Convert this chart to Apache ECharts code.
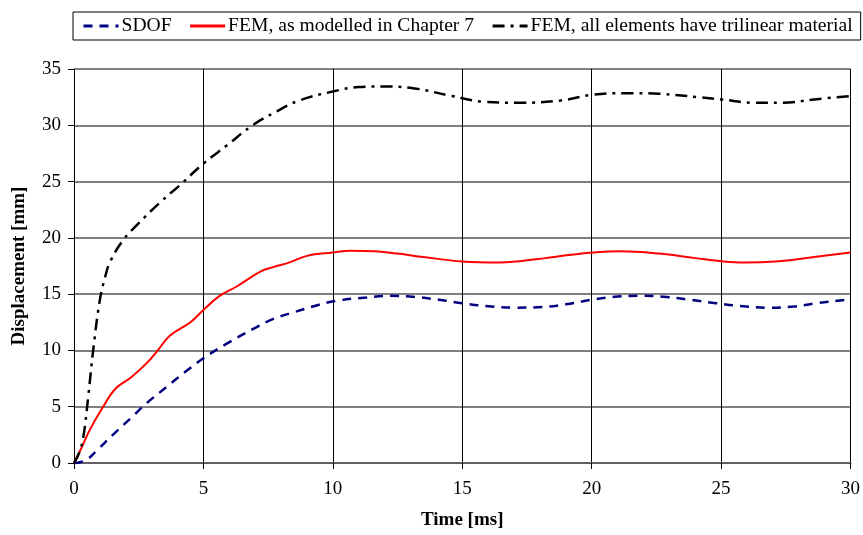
<!DOCTYPE html>
<html><head><meta charset="utf-8">
<script src="https://cdn.jsdelivr.net/npm/echarts@6/dist/echarts.min.js"></script>
<style>html,body{margin:0;padding:0;background:#fff}#c{width:863px;height:535px}</style>
</head><body><div id="c"></div>
<script>
const seriesNames = ["SDOF", "FEM, as modelled in Chapter 7", "FEM, all elements have trilinear material"];
const xTicks = [0, 5, 10, 15, 20, 25, 30];
const yTicks = [0, 5, 10, 15, 20, 25, 30, 35];

const sdofT = [0, 0.2, 0.5, 0.9, 1.5, 2.2, 2.8, 3.6, 4.3, 5.0, 5.9, 7.0, 7.7, 8.5, 9.3, 10.1, 11.3, 12.2, 13.2, 14.1, 15.0, 15.9, 17.0, 18.1, 19.0, 20.0, 20.8, 21.8, 22.9, 23.8, 24.8, 25.7, 26.8, 27.8, 28.7, 29.8, 30];
const sdofY = [0, 0.05, 0.3, 1.15, 2.5, 4.0, 5.3, 6.8, 8.1, 9.3, 10.6, 12.0, 12.8, 13.4, 13.95, 14.4, 14.7, 14.85, 14.75, 14.5, 14.2, 13.95, 13.8, 13.85, 14.1, 14.5, 14.75, 14.85, 14.75, 14.5, 14.2, 13.95, 13.8, 13.9, 14.2, 14.5, 14.55];

const femT = [0, 0.3, 0.6, 1.1, 1.6, 2.2, 2.8, 3.2, 3.7, 4.5, 5.0, 5.6, 6.3, 7.2, 7.7, 8.3, 9.0, 10.0, 10.7, 11.6, 12.5, 13.5, 15.0, 16.4, 17.3, 18.2, 19.2, 20.1, 21.1, 22.6, 24.0, 25.1, 25.9, 27.1, 28.6, 30];
const femY = [0, 1.4, 2.9, 4.9, 6.6, 7.6, 8.85, 9.9, 11.3, 12.5, 13.6, 14.8, 15.7, 17.0, 17.4, 17.8, 18.4, 18.7, 18.85, 18.8, 18.6, 18.3, 17.9, 17.8, 17.95, 18.2, 18.5, 18.7, 18.8, 18.6, 18.2, 17.9, 17.8, 17.9, 18.3, 18.7];

const triT = [0, 0.2, 0.36, 0.55, 0.74, 1.0, 1.2, 1.4, 1.9, 2.5, 3.3, 4.1, 5.0, 5.9, 6.9, 7.8, 8.7, 10.0, 11.0, 11.9, 13.1, 14.6, 15.8, 17.3, 18.8, 20.0, 21.4, 22.6, 24.1, 25.0, 26.3, 27.4, 28.6, 30];
const triY = [0, 0.9, 2.3, 5.9, 10.0, 14.5, 16.5, 17.9, 19.8, 21.3, 23.1, 24.7, 26.6, 28.2, 30.0, 31.2, 32.2, 33.0, 33.4, 33.45, 33.3, 32.6, 32.1, 32.0, 32.2, 32.7, 32.85, 32.8, 32.5, 32.3, 32.0, 32.0, 32.3, 32.6];

function pairs(t, y) { return t.map((v, i) => [v, y[i]]); }

const font = "Liberation Serif";
const chart = echarts.init(document.getElementById('c'), null, {renderer: 'canvas'});
chart.setOption({
  animation: false,
  backgroundColor: '#fff',
  textStyle: {fontFamily: font},
  legend: {
    top: 12, left: 73,
    itemWidth: 35, itemHeight: 14, itemGap: 17,
    padding: [4, 8, 4, 9],
    borderColor: '#000', borderWidth: 1, borderRadius: 0,
    itemStyle: {opacity: 0},
    lineStyle: {width: 3},
    textStyle: {fontFamily: font, fontSize: 19.6, color: '#000', padding: [0, 0, 0, -2]},
    data: seriesNames
  },
  grid: {left: 74, right: 10, top: 69, bottom: 72, containLabel: false},
  xAxis: {
    type: 'value', min: xTicks[0], max: xTicks[xTicks.length - 1], interval: 5,
    name: 'Time [ms]', nameLocation: 'middle', nameGap: 48,
    nameTextStyle: {fontFamily: font, fontSize: 19, fontWeight: 'bold', color: '#000'},
    axisLine: {show: true, onZero: false, lineStyle: {color: '#606060', width: 2}},
    axisTick: {show: true, inside: false, length: 6, lineStyle: {color: '#000', width: 1}},
    axisLabel: {fontFamily: font, fontSize: 19, color: '#000', margin: 17},
    splitLine: {show: true, lineStyle: {color: '#000', width: 1}}
  },
  yAxis: {
    type: 'value', min: yTicks[0], max: yTicks[yTicks.length - 1], interval: 5,
    name: 'Displacement [mm]', nameLocation: 'middle', nameGap: 45,
    nameTextStyle: {fontFamily: font, fontSize: 19, fontWeight: 'bold', color: '#000'},
    axisLine: {show: true, lineStyle: {color: '#000', width: 1}},
    axisTick: {show: true, inside: false, length: 6, lineStyle: {color: '#000', width: 1}},
    axisLabel: {fontFamily: font, fontSize: 19, color: '#000', margin: 13},
    splitLine: {show: true, lineStyle: {color: '#808080', width: 2}}
  },
  series: [
    {name: seriesNames[0], type: 'line', smooth: 0.4, symbol: 'none', data: pairs(sdofT, sdofY), z: 3,
     lineStyle: {color: '#000080', width: 2.5, type: [9, 7]}, itemStyle: {color: '#000080'}},
    {name: seriesNames[1], type: 'line', smooth: 0.4, symbol: 'none', data: pairs(femT, femY), z: 4,
     lineStyle: {color: '#ff0000', width: 2, type: 'solid'}, itemStyle: {color: '#ff0000'}},
    {name: seriesNames[2], type: 'line', smooth: 0.4, symbol: 'none', data: pairs(triT, triY), z: 5,
     lineStyle: {color: '#000', width: 2.5, type: [12, 6, 3, 6]}, itemStyle: {color: '#000'}}
  ]
});
</script></body></html>
